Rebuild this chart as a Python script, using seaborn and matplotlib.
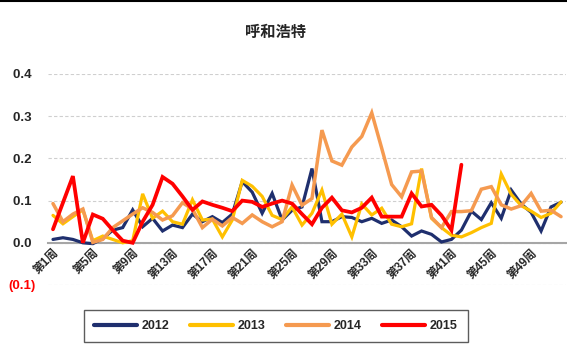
import matplotlib
matplotlib.use("Agg")
import matplotlib.pyplot as plt
from matplotlib.lines import Line2D
import numpy as np
import pandas as pd
import seaborn as sns

# ---------------- data ----------------
title = "呼和浩特"
years = ["2012", "2013", "2014", "2015"]
weeks = list(range(1, 53))
tick_weeks = list(range(1, 53, 4))
tick_labels = [f"第{w}周" for w in tick_weeks]
y_ticks = [-0.1, 0.0, 0.1, 0.2, 0.3, 0.4]
y_tick_labels = ["(0.1)", "0.0 ", "0.1 ", "0.2 ", "0.3 ", "0.4 "]

s2012 = [0.008, 0.012, 0.008, 0.0, -0.002, 0.01, 0.03, 0.036, 0.078, 0.038,
         0.058, 0.028, 0.042, 0.036, 0.068, 0.05, 0.062, 0.048, 0.068, 0.145,
         0.12, 0.07, 0.117, 0.054, 0.077, 0.085, 0.176, 0.05, 0.05, 0.062,
         0.06, 0.05, 0.058, 0.046, 0.054, 0.038, 0.016, 0.028, 0.02, 0.002,
         0.008, 0.03, 0.075, 0.055, 0.095, 0.058, 0.125, 0.092, 0.072, 0.028,
         0.085, 0.096]
s2013 = [0.065, 0.045, 0.062, 0.078, 0.005, 0.016, 0.008, 0.0, 0.005, 0.116,
         0.058, 0.075, 0.05, 0.044, 0.102, 0.054, 0.056, 0.014, 0.054, 0.148,
         0.134, 0.11, 0.065, 0.055, 0.085, 0.042, 0.07, 0.125, 0.044, 0.068,
         0.014, 0.092, 0.066, 0.082, 0.044, 0.038, 0.045, 0.176, 0.058, 0.036,
         0.018, 0.014, 0.024, 0.036, 0.046, 0.163, 0.115, 0.088, 0.075, 0.06,
         0.07, 0.097]
s2014 = [0.093, 0.05, 0.068, 0.08, 0.001, 0.008, 0.036, 0.052, 0.068, 0.083,
         0.072, 0.054, 0.064, 0.095, 0.08, 0.036, 0.056, 0.04, 0.06, 0.046,
         0.066, 0.05, 0.038, 0.05, 0.137, 0.089, 0.105, 0.267, 0.194, 0.184,
         0.227, 0.252, 0.308, 0.224, 0.138, 0.109, 0.168, 0.17, 0.06, 0.036,
         0.074, 0.074, 0.076, 0.127, 0.133, 0.09, 0.08, 0.088, 0.117, 0.075,
         0.077, 0.062]
s2015 = [0.032, 0.095, 0.158, 0.0, 0.067, 0.057, 0.03, 0.005, 0.0, 0.05,
         0.09, 0.156, 0.14, 0.11, 0.078, 0.098, 0.09, 0.083, 0.075, 0.1,
         0.097, 0.085, 0.093, 0.1, 0.093, 0.068, 0.044, 0.083, 0.107, 0.077,
         0.072, 0.083, 0.107, 0.062, 0.062, 0.062, 0.117, 0.086, 0.09, 0.065,
         0.03, 0.185]

colors = {"2012": "#1F2F6E", "2013": "#FFC000", "2014": "#F59A50", "2015": "#FF0000"}
widths = {"2012": 2.3, "2013": 2.3, "2014": 2.5, "2015": 2.7}

series = {"2012": s2012, "2013": s2013, "2014": s2014, "2015": s2015}
df = pd.concat(
    [pd.DataFrame({"week": weeks[:len(v)], "value": v, "year": y}) for y, v in series.items()],
    ignore_index=True,
)

# ---------------- style ----------------
sns.set_theme(style="white")
plt.rcParams["font.family"] = ["Liberation Sans", "Noto Sans CJK SC", "DejaVu Sans"]
plt.rcParams["font.weight"] = "bold"

fig = plt.figure(figsize=(5.67, 3.49), dpi=100)
W, H = 567, 349
ax = fig.add_axes([48 / W, 64 / H, 518 / W, 211 / H])

sns.lineplot(data=df, x="week", y="value", hue="year", hue_order=years,
             palette=colors, ax=ax, legend=False, sort=False, estimator=None)
for line, y in zip(ax.lines, years):
    line.set_linewidth(widths[y])
    line.set_solid_joinstyle("miter")

# spines first (setting the spine position resets the ticks)
for side in ["left", "right", "top"]:
    ax.spines[side].set_visible(False)
ax.spines["bottom"].set_position(("data", 0))
ax.spines["bottom"].set_color("#a6a6a6")
ax.spines["bottom"].set_linewidth(1.5)
ax.spines["bottom"].set_zorder(1.5)

ax.set_xlim(0.5, 52.5)
ax.set_ylim(-0.1, 0.4)
ax.set_yticks(y_ticks)
ax.set_yticklabels(y_tick_labels, fontsize=9.5, fontweight="bold")
ax.get_yticklabels()[0].set_color("#FF0000")
ax.set_xticks(tick_weeks)
ax.set_xticklabels(tick_labels, fontsize=8.5, fontweight="bold")
for lab in ax.get_xticklabels():
    lab.set_rotation(45)
    lab.set_ha("right")
    lab.set_va("top")
    lab.set_rotation_mode("anchor")
ax.tick_params(axis="both", length=0)
ax.tick_params(axis="y", pad=9)
ax.tick_params(axis="x", pad=3)
ax.set_xlabel("")
ax.set_ylabel("")

ax.yaxis.grid(True, linestyle=(0, (3, 2)), color="#cfcfcf", linewidth=0.8)
ax.xaxis.grid(False)

fig.text(276 / W, 1 - 32 / H, title, ha="center", va="center",
         fontsize=11, fontweight="bold", family=["Noto Sans CJK SC"])

leg = fig.legend(handles=list(ax.lines), labels=years, loc="center",
                 bbox_to_anchor=(276 / W, 1 - 326 / H), ncol=4,
                 frameon=True, fancybox=False, edgecolor="#333333",
                 handlelength=3.4, handletextpad=0.4, columnspacing=1.65,
                 borderpad=0.8, prop={"size": 9, "weight": "bold"})
leg.get_frame().set_linewidth(1.0)
for lh in leg.get_lines():
    lh.set_linewidth(3)

fig.add_artist(Line2D([0, 1], [1 - 1 / H, 1 - 1 / H], color="black",
                      linewidth=1.5, transform=fig.transFigure))

fig.savefig("out.png", dpi=100)
